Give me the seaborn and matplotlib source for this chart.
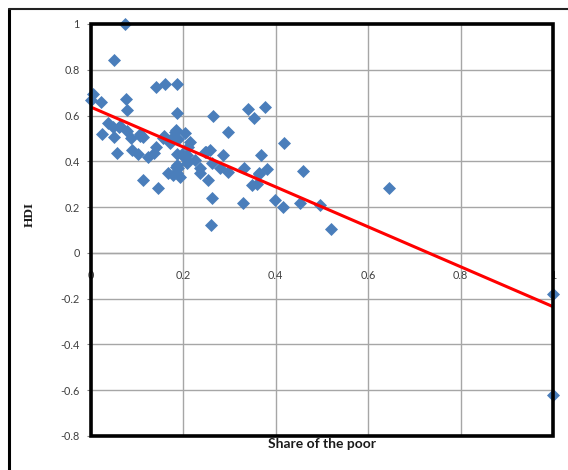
import numpy as np
import pandas as pd
import matplotlib.pyplot as plt
from matplotlib.lines import Line2D
from matplotlib.patches import Rectangle
import seaborn as sns

# share of the poor (x) and HDI (y)
share_poor = [0.074, 0.050, 0.000, 0.004, 0.021, 0.141, 0.161, 0.187, 0.075, 0.077,
              0.187, 0.265, 0.339, 0.353, 0.377, 0.418, 0.297, 0.024, 0.037, 0.048,
              0.063, 0.050, 0.056, 0.079, 0.086, 0.088, 0.105, 0.113, 0.102, 0.124,
              0.113, 0.146, 0.141, 0.137, 0.158, 0.172, 0.182, 0.184, 0.178, 0.189,
              0.186, 0.167, 0.177, 0.183, 0.186, 0.193, 0.196, 0.203, 0.214, 0.211,
              0.208, 0.207, 0.225, 0.236, 0.236, 0.249, 0.258, 0.254, 0.261, 0.261,
              0.260, 0.286, 0.279, 0.297, 0.331, 0.330, 0.348, 0.360, 0.364, 0.369,
              0.380, 0.398, 0.416, 0.458, 0.646, 0.452, 0.496, 0.519, 1.000, 1.000,
              0.061, 0.106, 0.156, 0.189, 0.186, 0.203, 0.247, 0.363]
hdi = [1.000, 0.843, 0.670, 0.693, 0.659, 0.726, 0.738, 0.738, 0.671, 0.624,
       0.612, 0.599, 0.627, 0.588, 0.636, 0.478, 0.526, 0.521, 0.566, 0.551,
       0.554, 0.505, 0.435, 0.532, 0.503, 0.449, 0.518, 0.505, 0.432, 0.420,
       0.318, 0.282, 0.464, 0.437, 0.510, 0.478, 0.529, 0.539, 0.507, 0.496,
       0.430, 0.347, 0.340, 0.376, 0.347, 0.330, 0.430, 0.525, 0.485, 0.463,
       0.391, 0.427, 0.405, 0.347, 0.369, 0.442, 0.449, 0.318, 0.394, 0.238,
       0.121, 0.427, 0.369, 0.354, 0.369, 0.216, 0.296, 0.303, 0.344, 0.427,
       0.365, 0.230, 0.201, 0.357, 0.282, 0.216, 0.209, 0.105, -0.181, -0.622,
       0.548, 0.510, 0.504, 0.369, 0.383, 0.413, 0.442, 0.349]

x_ticks = [0, 0.2, 0.4, 0.6, 0.8, 1]
x_labels = ['0', '0.2', '0.4', '0.6', '0.8', '1']
y_ticks = [-0.8, -0.6, -0.4, -0.2, 0, 0.2, 0.4, 0.6, 0.8, 1]
y_labels = ['-0.8', '-0.6', '-0.4', '-0.2', '0', '0.2', '0.4', '0.6', '0.8', '1']

df = pd.DataFrame({'share': share_poor, 'hdi': hdi})

sns.set_style('white')
plt.rcParams['font.family'] = ['Lato', 'DejaVu Sans']

fig = plt.figure(figsize=(5.68, 4.70), dpi=100)
ax = fig.add_axes([91 / 568, 1 - 436 / 470, 462 / 568, 412 / 470])

sns.scatterplot(data=df, x='share', y='hdi', marker='D', s=44, color='#4a7ebb',
                linewidth=0, ax=ax, zorder=3, clip_on=False)
sns.regplot(data=df, x='share', y='hdi', scatter=False, ci=None, ax=ax,
            line_kws={'color': '#ff0000', 'lw': 2.2, 'zorder': 4})

ax.set_xlim(0, 1)
ax.set_ylim(-0.8, 1)
ax.set_xticks(x_ticks)
ax.set_xticklabels(x_labels)
ax.set_yticks(y_ticks)
ax.set_yticklabels(y_labels)
ax.grid(True, color='#a6a6a6', lw=1)
ax.set_axisbelow(True)

# x axis crosses at y = 0, like the Excel chart
for side in ['top', 'right', 'left']:
    ax.spines[side].set_visible(False)
ax.spines['bottom'].set_position(('data', 0))
ax.spines['bottom'].set_color('#a6a6a6')
ax.spines['bottom'].set_linewidth(1)
ax.add_patch(Rectangle((0, 0), 1, 1, transform=ax.transAxes, fill=False,
                       edgecolor='black', lw=2.6, clip_on=False, zorder=5))

ax.tick_params(axis='x', length=0, pad=12, labelsize=7.8, labelcolor='#404040')
ax.tick_params(axis='y', length=3, direction='out', left=True, color='#808080',
               pad=5, labelsize=7.8, labelcolor='#404040')
ax.set_xlabel('')
ax.set_ylabel('')

fig.text(322 / 568, 1 - 444 / 470, 'Share of the poor', ha='center', va='center',
         fontsize=10, fontweight='bold', color='#1a1a1a')
fig.text(30 / 568, 1 - 215 / 470, 'HDI', ha='center', va='center', rotation=90,
         fontsize=9.5, fontweight='bold', family='Liberation Serif', color='#1a1a1a')

# outer frame (cut at right and bottom)
fig.add_artist(Line2D([9 / 568, 9 / 568], [0, 1 - 9 / 470], color='black', lw=2.2))
fig.add_artist(Line2D([9 / 568, 1], [1 - 9 / 470, 1 - 9 / 470], color='#222222', lw=1.5))

fig.savefig('out.png', dpi=100)
